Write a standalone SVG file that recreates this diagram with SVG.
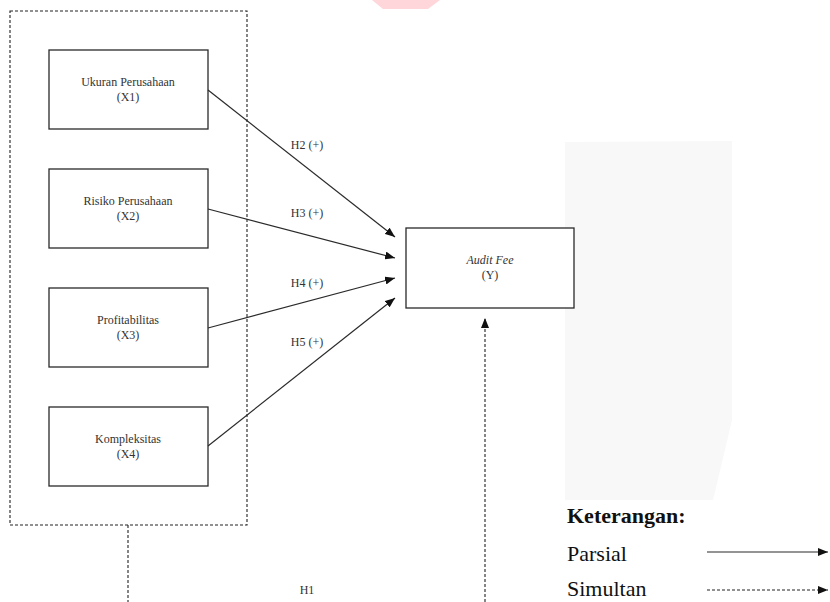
<svg xmlns="http://www.w3.org/2000/svg" width="830" height="602" viewBox="0 0 830 602">
<style>
.bg{fill:#ffffff}
.node rect{fill:#ffffff;stroke:#2a2a2a;stroke-width:1.3}
.nt{font-family:"Liberation Serif","Times New Roman",serif;font-size:12px;fill:#333;text-anchor:middle}
.lbl{font-family:"Liberation Serif","Times New Roman",serif;font-size:12px;fill:#333;text-anchor:middle}
.leg{font-family:"Liberation Serif","Times New Roman",serif;font-size:22px;fill:#111}
.solid{stroke:#2a2a2a;stroke-width:1.2;fill:none}
.dash{stroke:#222;stroke-width:1.1;fill:none;stroke-dasharray:3,2}
</style>
<defs>
<marker id="ah" viewBox="0 0 10 8" refX="10" refY="4" markerWidth="10" markerHeight="8" markerUnits="userSpaceOnUse" orient="auto">
<path d="M0,0 L10,4 L0,8 Z" fill="#111"/>
</marker>
</defs>
<rect class="bg" x="0" y="0" width="830" height="602"/>
<polygon points="372,0 440,0 428,9 383,9" fill="#ffd6d9"/>
<polygon points="565,142 732,141 732,420 713,500 565,500" fill="#f8f8f8"/>

<g id="group-x">
<rect class="dash" x="10" y="11" width="237" height="514"/>
</g>

<g id="x1" class="node">
<rect x="49" y="50" width="159" height="79"/>
<text class="nt" x="128" y="86">Ukuran Perusahaan</text>
<text class="nt" x="128" y="101">(X1)</text>
</g>
<g id="x2" class="node">
<rect x="49" y="169" width="159" height="79"/>
<text class="nt" x="128" y="205">Risiko Perusahaan</text>
<text class="nt" x="128" y="220">(X2)</text>
</g>
<g id="x3" class="node">
<rect x="49" y="288" width="159" height="79"/>
<text class="nt" x="128" y="324">Profitabilitas</text>
<text class="nt" x="128" y="339">(X3)</text>
</g>
<g id="x4" class="node">
<rect x="49" y="407" width="159" height="79"/>
<text class="nt" x="128" y="443">Kompleksitas</text>
<text class="nt" x="128" y="458">(X4)</text>
</g>
<g id="y" class="node">
<rect x="406" y="228" width="168" height="80"/>
<text class="nt" x="490" y="264" font-style="italic">Audit Fee</text>
<text class="nt" x="490" y="279">(Y)</text>
</g>

<g id="connectors">
<line class="solid" x1="208" y1="90" x2="395" y2="237" marker-end="url(#ah)"/>
<line class="solid" x1="208" y1="209" x2="395" y2="258" marker-end="url(#ah)"/>
<line class="solid" x1="208" y1="328" x2="395" y2="278" marker-end="url(#ah)"/>
<line class="solid" x1="208" y1="446" x2="395" y2="298" marker-end="url(#ah)"/>
<line class="dash" x1="128" y1="525" x2="128" y2="602"/>
<line class="dash" x1="485" y1="602" x2="485" y2="318" marker-end="url(#ah)"/>
<text class="lbl" x="307" y="149">H2 (+)</text>
<text class="lbl" x="307" y="217">H3 (+)</text>
<text class="lbl" x="307" y="287">H4 (+)</text>
<text class="lbl" x="307" y="346">H5 (+)</text>
<text class="lbl" x="307" y="594">H1</text>
</g>

<g id="legend">
<text class="leg" x="567" y="523" font-weight="bold">Keterangan:</text>
<text class="leg" x="567" y="561">Parsial</text>
<text class="leg" x="567" y="596">Simultan</text>
<line class="solid" x1="707" y1="552" x2="828" y2="552" marker-end="url(#ah)"/>
<line class="dash" x1="707" y1="590" x2="828" y2="590" marker-end="url(#ah)"/>
</g>
</svg>
